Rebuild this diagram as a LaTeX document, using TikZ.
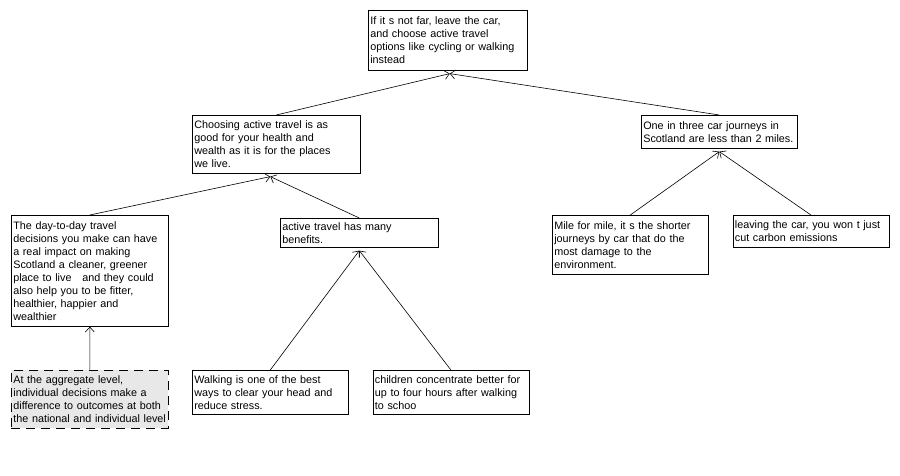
\documentclass[tikz,border=0pt]{standalone}
\usepackage{fontspec}
\setmainfont{Liberation Sans}
\usepackage{tikz}
\usetikzlibrary{positioning, arrows.meta}
\definecolor{notegray}{RGB}{232,232,232}

\begin{document}
\begin{tikzpicture}[x=1pt, y=-1pt, >={Straight Barb[length=5pt, width=9pt]},
    box/.style={draw, line width=0.6pt, anchor=north west, align=left,
      inner xsep=2pt, inner ysep=2pt, text width=152pt,
      font=\fontsize{10.8}{13}\selectfont},
    note/.style={box, line width=0.8pt, dash pattern=on 9pt off 6pt, fill=notegray},
    link/.style={->, line width=0.6pt}]
      \useasboundingbox (0,0) rectangle (900,475);

      \node[box, text width=155pt, minimum height=60pt] (goal) at (368,10) {
        If it s not far, leave the car,\\and choose active travel\\options like cycling or walking\\instead
      };
      \node[box, text width=164pt, minimum height=58pt] (health) at (192,115) {
        Choosing active travel is as\\good for your health and\\wealth as it is for the places\\we live.
      };
      \node[box, minimum height=33pt] (miles) at (641,115) {
        One in three car journeys in\\Scotland are less than 2 miles.
      };
      \node[box, text width=153pt, minimum height=111pt] (daily) at (11,215) {
        The day-to-day travel\\decisions you make can have\\a real impact on making\\Scotland a cleaner, greener\\place to live\ \ \ and they could\\also help you to be fitter,\\healthier, happier and\\wealthier
      };
      \node[box, text width=154pt, minimum height=29pt] (benefits) at (280,218) {
        active travel has many\\benefits.
      };
      \node[box, minimum height=59pt] (damage) at (552,215) {
        Mile for mile, it s the shorter\\journeys by car that do the\\most damage to the\\environment.
      };
      \node[box, right=24pt of damage.north east, anchor=north west, minimum height=32pt] (carbon) {
        leaving the car, you won t just\\cut carbon emissions
      };
      \node[note, text width=153pt, minimum height=58pt] (aggregate) at (11,370) {
        At the aggregate level,\\individual decisions make a\\difference to outcomes at both\\the national and individual level
      };
      \node[box, minimum height=44pt] (walking) at (192,370) {
        Walking is one of the best\\ways to clear your head and\\reduce stress.
      };
      \node[box, right=24pt of walking.north east, anchor=north west, minimum height=44pt] (school) {
        children concentrate better for\\up to four hours after walking\\to schoo
      };

      % meeting points just under each parent box
      \coordinate (goal-tip) at ([xshift=2pt, yshift=-3pt]goal.south);
      \coordinate (health-tip) at ([xshift=-6pt, yshift=-3pt]health.south);
      \coordinate (miles-tip) at ([yshift=-3pt]miles.south);
      \coordinate (benefits-tip) at ([yshift=-3pt]benefits.south);

      \draw[link] (health.north) -- (goal-tip);
      \draw[link] (miles.north) -- (goal-tip);
      \draw[link] (daily.north) -- (health-tip);
      \draw[link] (benefits.north) -- (health-tip);
      \draw[link] (damage.north) -- (miles-tip);
      \draw[link] (carbon.north) -- (miles-tip);
      \draw[link] (walking.north) -- (benefits-tip);
      \draw[link] (school.north) -- (benefits-tip);
      \draw[link] (aggregate.north) -- (daily.south);
    \end{tikzpicture}
\end{document}
